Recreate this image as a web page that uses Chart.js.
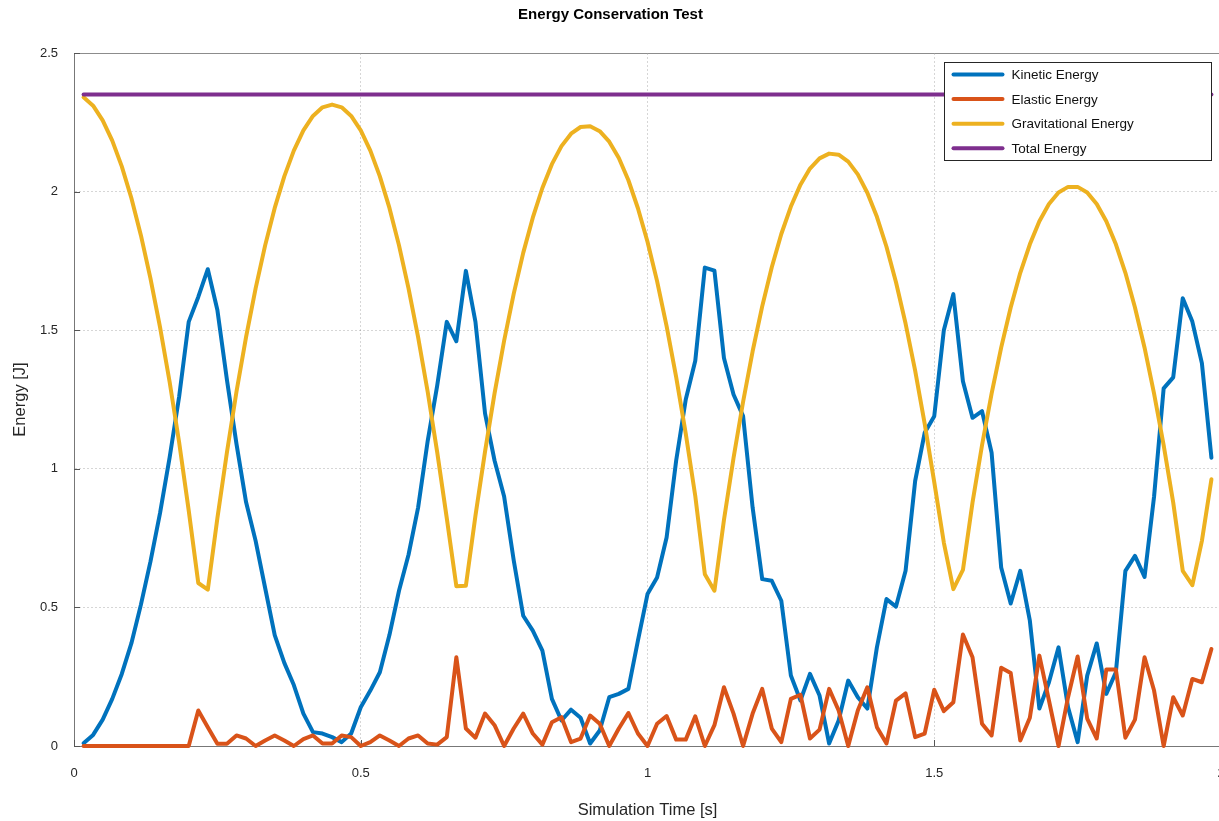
<!DOCTYPE html>
<html>
<head>
<meta charset="utf-8">
<script src="https://cdn.jsdelivr.net/npm/chart.js@4.4.0/dist/chart.umd.min.js"></script>
<style>
  html, body { margin: 0; padding: 0; background: #fff; overflow: hidden; }
  #wrap { width: 1219px; height: 821px; overflow: hidden; }
  canvas { display: block; }
</style>
</head>
<body>
<div id="wrap"><canvas id="myChart" width="1240" height="821" style="width:1240px;height:821px"></canvas></div>
<script>
// simulation time [s], one sample every 1/60 s
const time = [
  0.0167, 0.0333, 0.05, 0.0667, 0.0833, 0.1, 0.1167, 0.1333, 0.15, 0.1667,
  0.1833, 0.2, 0.2167, 0.2333, 0.25, 0.2667, 0.2833, 0.3, 0.3167, 0.3333,
  0.35, 0.3667, 0.3833, 0.4, 0.4167, 0.4333, 0.45, 0.4667, 0.4833, 0.5,
  0.5167, 0.5333, 0.55, 0.5667, 0.5833, 0.6, 0.6167, 0.6333, 0.65, 0.6667,
  0.6833, 0.7, 0.7167, 0.7333, 0.75, 0.7667, 0.7833, 0.8, 0.8167, 0.8333,
  0.85, 0.8667, 0.8833, 0.9, 0.9167, 0.9333, 0.95, 0.9667, 0.9833, 1.0,
  1.0167, 1.0333, 1.05, 1.0667, 1.0833, 1.1, 1.1167, 1.1333, 1.15, 1.1667,
  1.1833, 1.2, 1.2167, 1.2333, 1.25, 1.2667, 1.2833, 1.3, 1.3167, 1.3333,
  1.35, 1.3667, 1.3833, 1.4, 1.4167, 1.4333, 1.45, 1.4667, 1.4833, 1.5,
  1.5167, 1.5333, 1.55, 1.5667, 1.5833, 1.6, 1.6167, 1.6333, 1.65, 1.6667,
  1.6833, 1.7, 1.7167, 1.7333, 1.75, 1.7667, 1.7833, 1.8, 1.8167, 1.8333,
  1.85, 1.8667, 1.8833, 1.9, 1.9167, 1.9333, 1.95, 1.9667, 1.9833
];

const kinetic = [
  0.01, 0.04, 0.095, 0.17, 0.26, 0.37, 0.51, 0.665, 0.84, 1.04,
  1.26, 1.53, 1.62, 1.72, 1.573, 1.32, 1.09, 0.88, 0.74, 0.57,
  0.40, 0.30, 0.22, 0.117, 0.05, 0.045, 0.032, 0.014, 0.045, 0.14,
  0.20, 0.266, 0.40, 0.56, 0.69, 0.86, 1.10, 1.30, 1.53, 1.46,
  1.714, 1.53, 1.20, 1.03, 0.90, 0.67, 0.47, 0.416, 0.344, 0.17,
  0.092, 0.131, 0.102, 0.009, 0.056, 0.176, 0.188, 0.206, 0.38, 0.548,
  0.608, 0.752, 1.03, 1.25, 1.39, 1.726, 1.715, 1.40, 1.268, 1.19,
  0.86, 0.602, 0.596, 0.524, 0.254, 0.164, 0.26, 0.182, 0.009, 0.092,
  0.236, 0.176, 0.135, 0.356, 0.53, 0.503, 0.632, 0.956, 1.13, 1.19,
  1.50, 1.63, 1.316, 1.184, 1.208, 1.058, 0.644, 0.514, 0.632, 0.452,
  0.135, 0.23, 0.356, 0.14, 0.014, 0.254, 0.37, 0.188, 0.266, 0.632,
  0.686, 0.61, 0.90, 1.29, 1.33, 1.615, 1.531, 1.381, 1.04
];

const elastic = [
  0, 0, 0, 0, 0, 0, 0, 0, 0, 0,
  0, 0, 0.128, 0.068, 0.008, 0.008, 0.038, 0.027, 0.0, 0.02,
  0.038, 0.02, 0.0, 0.025, 0.038, 0.009, 0.009, 0.038, 0.032, 0.0,
  0.014, 0.038, 0.02, 0.0, 0.027, 0.038, 0.009, 0.005, 0.032, 0.32,
  0.063, 0.03, 0.117, 0.075, 0.0, 0.063, 0.117, 0.045, 0.005, 0.086,
  0.104, 0.014, 0.027, 0.11, 0.08, 0.0, 0.063, 0.119, 0.045, 0.0,
  0.08, 0.108, 0.023, 0.023, 0.107, 0.0, 0.075, 0.212, 0.117, 0.0,
  0.117, 0.206, 0.063, 0.014, 0.17, 0.185, 0.027, 0.059, 0.206, 0.128,
  0.0, 0.128, 0.212, 0.068, 0.009, 0.164, 0.19, 0.032, 0.045, 0.203,
  0.126, 0.158, 0.402, 0.32, 0.08, 0.038, 0.282, 0.263, 0.02, 0.102,
  0.326, 0.164, 0.0, 0.176, 0.323, 0.099, 0.027, 0.276, 0.276, 0.03,
  0.095, 0.32, 0.20, 0.0, 0.176, 0.11, 0.242, 0.23, 0.35
];

const gravitational = [
  2.34, 2.31, 2.257, 2.184, 2.091, 1.977, 1.842, 1.687, 1.511, 1.314,
  1.096, 0.85, 0.588, 0.564, 0.822, 1.06, 1.278, 1.475, 1.651, 1.806,
  1.941, 2.055, 2.148, 2.221, 2.273, 2.304, 2.314, 2.304, 2.273, 2.221,
  2.148, 2.055, 1.941, 1.806, 1.651, 1.475, 1.278, 1.06, 0.822, 0.576,
  0.578, 0.831, 1.062, 1.272, 1.462, 1.631, 1.779, 1.906, 2.013, 2.099,
  2.164, 2.209, 2.233, 2.236, 2.218, 2.18, 2.121, 2.041, 1.94, 1.819,
  1.677, 1.515, 1.331, 1.127, 0.902, 0.62, 0.56, 0.815, 1.039, 1.242,
  1.424, 1.586, 1.727, 1.847, 1.946, 2.025, 2.083, 2.12, 2.137, 2.133,
  2.108, 2.062, 1.996, 1.909, 1.801, 1.673, 1.524, 1.354, 1.163, 0.952,
  0.734, 0.566, 0.635, 0.878, 1.085, 1.271, 1.437, 1.582, 1.707, 1.81,
  1.893, 1.955, 1.997, 2.017, 2.017, 1.997, 1.955, 1.893, 1.81, 1.707,
  1.582, 1.437, 1.271, 1.085, 0.878, 0.632, 0.58, 0.74, 0.962
];

const total = [
  2.35, 2.35, 2.35, 2.35, 2.35, 2.35, 2.35, 2.35, 2.35, 2.35,
  2.35, 2.35, 2.35, 2.35, 2.35, 2.35, 2.35, 2.35, 2.35, 2.35,
  2.35, 2.35, 2.35, 2.35, 2.35, 2.35, 2.35, 2.35, 2.35, 2.35,
  2.35, 2.35, 2.35, 2.35, 2.35, 2.35, 2.35, 2.35, 2.35, 2.35,
  2.35, 2.35, 2.35, 2.35, 2.35, 2.35, 2.35, 2.35, 2.35, 2.35,
  2.35, 2.35, 2.35, 2.35, 2.35, 2.35, 2.35, 2.35, 2.35, 2.35,
  2.35, 2.35, 2.35, 2.35, 2.35, 2.35, 2.35, 2.35, 2.35, 2.35,
  2.35, 2.35, 2.35, 2.35, 2.35, 2.35, 2.35, 2.35, 2.35, 2.35,
  2.35, 2.35, 2.35, 2.35, 2.35, 2.35, 2.35, 2.35, 2.35, 2.35,
  2.35, 2.35, 2.35, 2.35, 2.35, 2.35, 2.35, 2.35, 2.35, 2.35,
  2.35, 2.35, 2.35, 2.35, 2.35, 2.35, 2.35, 2.35, 2.35, 2.35,
  2.35, 2.35, 2.35, 2.35, 2.35, 2.35, 2.35, 2.35, 2.35
];

const seriesNames = ['Kinetic Energy', 'Elastic Energy', 'Gravitational Energy', 'Total Energy'];
const seriesColors = ['#0072BD', '#D95319', '#EDB120', '#7E2F8E'];
const xTicks = [0, 0.5, 1, 1.5, 2];
const yTicks = [0, 0.5, 1, 1.5, 2, 2.5];

function toPoints(values) {
    return values.map((v, i) => ({ x: time[i], y: v }));
}

Chart.defaults.font.family = '"Liberation Sans", Arial, sans-serif';
Chart.defaults.color = '#262626';

// axes box and small inward ticks like the original plot
const frame = {
    id: 'frame',
    beforeDatasetsDraw(chart) {
        const { ctx, chartArea: a, scales: { x, y } } = chart;
        ctx.save();
        ctx.strokeStyle = '#8c8c8c';
        ctx.lineWidth = 1;
        ctx.beginPath();
        ctx.moveTo(a.left, a.top + 0.5);
        ctx.lineTo(a.right, a.top + 0.5);
        ctx.stroke();
        ctx.strokeStyle = '#555';
        ctx.beginPath();
        yTicks.forEach(v => {
            const py = Math.round(y.getPixelForValue(v)) + 0.5;
            ctx.moveTo(a.left, py);
            ctx.lineTo(a.left + 6, py);
        });
        xTicks.forEach(v => {
            const px = Math.round(x.getPixelForValue(v)) + 0.5;
            ctx.moveTo(px, a.bottom);
            ctx.lineTo(px, a.bottom - 6);
        });
        ctx.stroke();
        ctx.restore();
    }
};

// boxed legend in the upper right of the plot
const boxLegend = {
    id: 'boxLegend',
    afterDatasetsDraw(chart) {
        const ctx = chart.ctx;
        const left = 944.5, top = 62.5, w = 267, h = 98;
        ctx.save();
        ctx.fillStyle = '#fff';
        ctx.fillRect(left, top, w, h);
        ctx.strokeStyle = '#262626';
        ctx.lineWidth = 1;
        ctx.strokeRect(left, top, w, h);
        ctx.font = '13.5px "Liberation Sans", Arial, sans-serif';
        ctx.textBaseline = 'middle';
        chart.data.datasets.forEach((ds, i) => {
            const ly = top + 12 + i * 24.6;
            ctx.strokeStyle = ds.borderColor;
            ctx.lineWidth = 4;
            ctx.lineCap = 'round';
            ctx.beginPath();
            ctx.moveTo(left + 9, ly);
            ctx.lineTo(left + 58, ly);
            ctx.stroke();
            ctx.fillStyle = '#111';
            ctx.fillText(ds.label, left + 67, ly + 1);
        });
        ctx.restore();
    }
};

const datasets = [kinetic, elastic, gravitational, total].map((vals, i) => ({
    label: seriesNames[i],
    data: toPoints(vals),
    borderColor: seriesColors[i],
    backgroundColor: seriesColors[i],
    borderWidth: 4,
    pointRadius: 0,
    tension: 0,
    borderJoinStyle: 'round',
    borderCapStyle: 'round',
    clip: false,
    order: 4 - i
}));

const ctx = document.getElementById('myChart');
new Chart(ctx, {
    type: 'line',
    data: { datasets: datasets },
    options: {
        responsive: false,
        animation: false,
        devicePixelRatio: 1,
        layout: { padding: { left: 0, right: 19, top: 0, bottom: 0 } },
        scales: {
            x: {
                type: 'linear',
                min: 0,
                max: 2,
                afterBuildTicks: s => { s.ticks = xTicks.map(v => ({ value: v })); },
                afterFit: s => { s.height = 75; s.paddingLeft = 0; s.paddingRight = 0; },
                ticks: { padding: 20, font: { size: 13 }, maxRotation: 0, callback: v => String(v) },
                grid: { color: 'rgba(0,0,0,0.16)', drawTicks: false },
                border: { display: true, color: '#777', width: 1, dash: [2, 2] },
                title: {
                    display: true,
                    text: 'Simulation Time [s]',
                    font: { size: 16.5 },
                    padding: { top: 0, bottom: 1 }
                }
            },
            y: {
                min: 0,
                max: 2.5,
                afterBuildTicks: s => { s.ticks = yTicks.map(v => ({ value: v })); },
                afterFit: s => { s.width = 74; s.paddingTop = 0; s.paddingBottom = 0; },
                ticks: { padding: 16, font: { size: 13 }, callback: v => String(v) },
                grid: { color: 'rgba(0,0,0,0.16)', drawTicks: false },
                border: { display: true, color: '#777', width: 1, dash: [2, 2] },
                title: {
                    display: true,
                    text: 'Energy [J]',
                    font: { size: 16.5 },
                    padding: { top: 11, bottom: 0 }
                }
            }
        },
        plugins: {
            title: {
                display: true,
                text: 'Energy Conservation Test',
                font: { size: 15, weight: 'bold' },
                color: '#000',
                padding: { top: 6, bottom: 29 }
            },
            legend: { display: false },
            tooltip: { enabled: false }
        }
    },
    plugins: [frame, boxLegend]
});
</script>
</body>
</html>
